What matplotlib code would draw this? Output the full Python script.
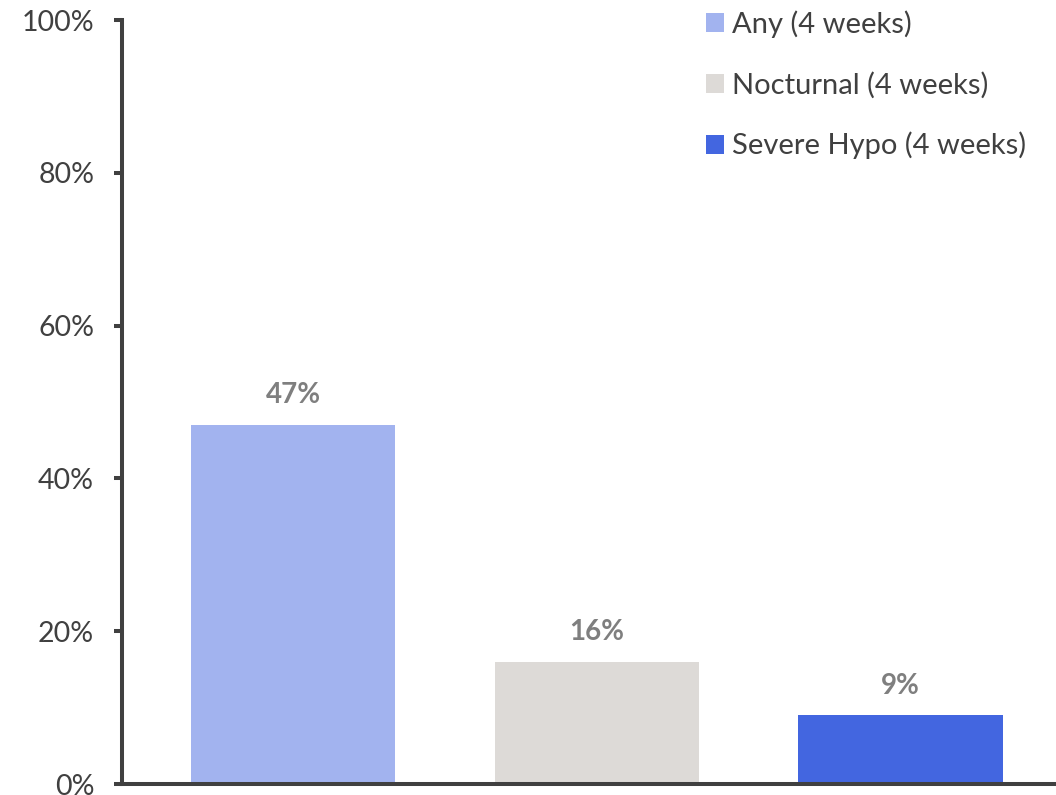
import matplotlib
matplotlib.use("Agg")
import matplotlib.pyplot as plt
from matplotlib.patches import Patch
from matplotlib.ticker import FuncFormatter

plt.rcParams['font.family'] = ['Lato', 'DejaVu Sans']

categories = ["Any (4 weeks)", "Nocturnal (4 weeks)", "Severe Hypo (4 weeks)"]
values = [47, 16, 9]
colors = ["#A2B3EF", "#DDDAD7", "#4366E0"]
y_ticks = [0, 20, 40, 60, 80, 100]

fig = plt.figure(figsize=(10.56, 7.95), dpi=100)
ax = fig.add_axes([0.1155, 0.0138, 0.8845, 0.961])

x = list(range(len(categories)))
bars = ax.bar(x, values, width=0.672, color=colors, zorder=2)

for xi, v in zip(x, values):
    ax.annotate(f"{v}%", xy=(xi, v), xytext=(0, 12), textcoords="offset points",
                ha="center", va="bottom", fontsize=20, fontweight="bold",
                color="#7F7F7F")

ax.set_xlim(-0.563, 2.512)
ax.set_ylim(0, 100)
ax.set_yticks(y_ticks)
ax.yaxis.set_major_formatter(FuncFormatter(lambda v, _: f"{v:.0f}%"))
ax.set_xticks([])

spine_color = "#404040"
for side in ["top", "right"]:
    ax.spines[side].set_visible(False)
for side in ["left", "bottom"]:
    ax.spines[side].set_color(spine_color)
    ax.spines[side].set_linewidth(2.9)
ax.tick_params(axis="y", direction="out", length=6, width=2.9, color=spine_color,
               labelsize=20.5, labelcolor="#404040", pad=14)

handles = [Patch(facecolor=c, edgecolor="none") for c in colors]
ax.legend(handles, categories, loc="upper left", bbox_to_anchor=(0.6127, 1.028),
          frameon=False, fontsize=21, labelcolor="#404040",
          handlelength=0.62, handleheight=0.62, handletextpad=0.27,
          labelspacing=1.15, borderaxespad=0)

fig.savefig("out.png", dpi=100, facecolor="white")
